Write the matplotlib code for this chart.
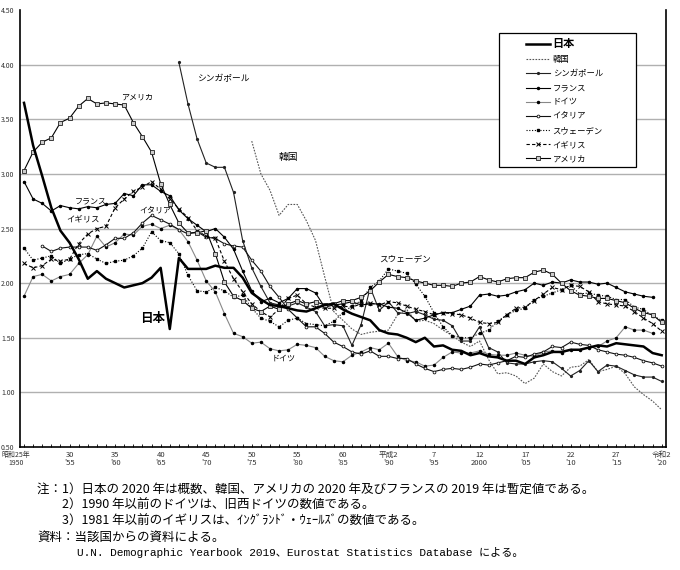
import matplotlib
matplotlib.use("Agg")
import matplotlib.pyplot as plt
import matplotlib.ticker as mticker
from matplotlib.patches import Rectangle

plt.rcParams['font.family'] = ['Noto Sans CJK JP', 'DejaVu Sans']

# total fertility rate, one value per year from the start year
japan_start = 1950
japan = [3.65, 3.26, 2.98, 2.69, 2.48, 2.37, 2.22, 2.04, 2.11, 2.04,
         2.00, 1.96, 1.98, 2.00, 2.05, 2.14, 1.58, 2.23, 2.13, 2.13,
         2.13, 2.16, 2.14, 2.14, 2.05, 1.91, 1.85, 1.80, 1.79, 1.77,
         1.75, 1.74, 1.77, 1.80, 1.81, 1.76, 1.72, 1.69, 1.66, 1.57,
         1.54, 1.53, 1.50, 1.46, 1.50, 1.42, 1.43, 1.39, 1.38, 1.34,
         1.36, 1.33, 1.32, 1.29, 1.29, 1.26, 1.32, 1.34, 1.37, 1.37,
         1.39, 1.39, 1.41, 1.43, 1.42, 1.45, 1.44, 1.43, 1.42, 1.36,
         1.34]

korea_start = 1975
korea = [3.30, 3.00, 2.85, 2.62, 2.72, 2.72, 2.57, 2.39, 2.06, 1.74,
         1.66, 1.58, 1.53, 1.55, 1.56, 1.57, 1.71, 1.76, 1.65, 1.66,
         1.63, 1.57, 1.52, 1.46, 1.42, 1.47, 1.30, 1.17, 1.18, 1.15,
         1.08, 1.13, 1.26, 1.19, 1.15, 1.23, 1.24, 1.30, 1.19, 1.21,
         1.24, 1.17, 1.05, 0.98, 0.92, 0.84]

singapore_start = 1967
singapore = [4.02, 3.64, 3.32, 3.10, 3.06, 3.06, 2.83, 2.39, 2.14, 1.97,
             1.82, 1.80, 1.79, 1.82, 1.78, 1.74, 1.61, 1.62, 1.61, 1.43,
             1.62, 1.96, 1.75, 1.83, 1.73, 1.72, 1.74, 1.71, 1.67, 1.66,
             1.61, 1.47, 1.47, 1.60, 1.41, 1.37, 1.27, 1.26, 1.26, 1.28,
             1.29, 1.28, 1.22, 1.15, 1.20, 1.29, 1.19, 1.25, 1.24, 1.20,
             1.16, 1.14, 1.14, 1.10]

france_start = 1950
france = [2.93, 2.77, 2.73, 2.66, 2.71, 2.69, 2.68, 2.70, 2.69, 2.72,
          2.73, 2.82, 2.80, 2.90, 2.90, 2.84, 2.80, 2.67, 2.59, 2.53,
          2.47, 2.50, 2.42, 2.31, 2.11, 1.93, 1.83, 1.86, 1.82, 1.86,
          1.95, 1.95, 1.91, 1.78, 1.80, 1.81, 1.83, 1.80, 1.81, 1.81,
          1.78, 1.77, 1.73, 1.66, 1.68, 1.71, 1.73, 1.73, 1.76, 1.79,
          1.89, 1.90, 1.88, 1.89, 1.92, 1.94, 2.00, 1.98, 2.01, 2.00,
          2.03, 2.01, 2.01, 1.99, 2.00, 1.96, 1.92, 1.90, 1.88, 1.87]

germany_start = 1950
germany = [1.88, 2.06, 2.08, 2.02, 2.06, 2.08, 2.18, 2.26, 2.43, 2.33,
           2.37, 2.45, 2.44, 2.52, 2.54, 2.50, 2.53, 2.49, 2.38, 2.21,
           2.02, 1.92, 1.72, 1.54, 1.51, 1.45, 1.46, 1.40, 1.38, 1.39,
           1.44, 1.43, 1.41, 1.33, 1.29, 1.28, 1.34, 1.37, 1.41, 1.39,
           1.45, 1.33, 1.29, 1.28, 1.24, 1.25, 1.32, 1.37, 1.36, 1.36,
           1.38, 1.35, 1.34, 1.34, 1.36, 1.34, 1.33, 1.37, 1.38, 1.36,
           1.39, 1.39, 1.41, 1.42, 1.47, 1.50, 1.60, 1.57, 1.57, 1.54]

italy_start = 1952
italy = [2.34, 2.29, 2.32, 2.33, 2.33, 2.33, 2.30, 2.35, 2.41, 2.41,
         2.46, 2.55, 2.62, 2.58, 2.54, 2.49, 2.45, 2.47, 2.42, 2.41,
         2.36, 2.34, 2.33, 2.21, 2.11, 1.97, 1.87, 1.76, 1.68, 1.60,
         1.60, 1.54, 1.46, 1.42, 1.37, 1.35, 1.38, 1.33, 1.33, 1.31,
         1.31, 1.26, 1.22, 1.19, 1.21, 1.22, 1.21, 1.23, 1.26, 1.25,
         1.27, 1.29, 1.33, 1.32, 1.35, 1.37, 1.42, 1.41, 1.46, 1.44,
         1.43, 1.39, 1.37, 1.35, 1.34, 1.32, 1.29, 1.27, 1.24]

sweden_start = 1950
sweden = [2.32, 2.21, 2.23, 2.25, 2.18, 2.22, 2.26, 2.27, 2.22, 2.18,
          2.20, 2.21, 2.25, 2.32, 2.47, 2.39, 2.37, 2.27, 2.07, 1.93,
          1.92, 1.96, 1.93, 1.87, 1.89, 1.77, 1.68, 1.65, 1.60, 1.66,
          1.68, 1.63, 1.62, 1.61, 1.65, 1.73, 1.79, 1.84, 1.96, 2.02,
          2.13, 2.11, 2.09, 1.99, 1.88, 1.73, 1.60, 1.52, 1.50, 1.50,
          1.54, 1.57, 1.65, 1.71, 1.75, 1.77, 1.85, 1.88, 1.91, 1.94,
          1.98, 1.90, 1.91, 1.89, 1.88, 1.85, 1.85, 1.78, 1.76, 1.70,
          1.66]

uk_start = 1950
uk = [2.18, 2.14, 2.16, 2.22, 2.20, 2.22, 2.36, 2.45, 2.50, 2.52,
      2.69, 2.77, 2.84, 2.88, 2.93, 2.86, 2.77, 2.68, 2.60, 2.48,
      2.43, 2.41, 2.20, 2.04, 1.92, 1.81, 1.74, 1.69, 1.76, 1.86,
      1.89, 1.81, 1.78, 1.77, 1.77, 1.79, 1.78, 1.81, 1.82, 1.80,
      1.83, 1.82, 1.79, 1.76, 1.74, 1.71, 1.73, 1.72, 1.71, 1.68,
      1.64, 1.63, 1.64, 1.71, 1.77, 1.78, 1.84, 1.90, 1.96, 1.94,
      1.98, 1.97, 1.92, 1.83, 1.81, 1.80, 1.79, 1.74, 1.68, 1.63,
      1.56]

usa_start = 1950
usa = [3.03, 3.20, 3.29, 3.33, 3.47, 3.51, 3.62, 3.69, 3.64, 3.65,
       3.64, 3.63, 3.47, 3.34, 3.20, 2.91, 2.72, 2.55, 2.46, 2.46,
       2.48, 2.27, 2.01, 1.88, 1.84, 1.77, 1.74, 1.79, 1.76, 1.81,
       1.84, 1.81, 1.83, 1.80, 1.81, 1.84, 1.84, 1.87, 1.93, 2.01,
       2.08, 2.06, 2.05, 2.02, 2.00, 1.98, 1.98, 1.97, 2.00, 2.01,
       2.06, 2.03, 2.01, 2.04, 2.05, 2.05, 2.10, 2.12, 2.08, 2.00,
       1.93, 1.89, 1.88, 1.86, 1.86, 1.84, 1.82, 1.77, 1.73, 1.71,
       1.64]

tick_years = [1950, 1955, 1960, 1965, 1970, 1975, 1980, 1985, 1990, 1995,
              2000, 2005, 2010, 2015, 2020]
tick_labels = ["昭和25年\n1950", "30\n'55", "35\n'60", "40\n'65", "45\n'70",
               "50\n'75", "55\n'80", "60\n'85", "平成2\n'90", "7\n'95",
               "12\n2000", "17\n'05", "22\n'10", "27\n'15", "令和2\n'20"]
grid_values = [1.0, 1.5, 2.0, 2.5, 3.0, 3.5, 4.0]

notes = [
    "注：1）日本の 2020 年は概数、韓国、アメリカの 2020 年及びフランスの 2019 年は暫定値である。",
    "　　2）1990 年以前のドイツは、旧西ドイツの数値である。",
    "　　3）1981 年以前のイギリスは、ｲﾝｸﾞﾗﾝﾄﾞ・ｳｪｰﾙｽﾞの数値である。",
    "資料：当該国からの資料による。",
]
source_line = "U.N. Demographic Yearbook 2019、Eurostat Statistics Database による。"


def years_for(start, values):
    return list(range(start, start + len(values)))


fig = plt.figure(figsize=(6.8, 5.7), dpi=100)
ax = fig.add_axes([20 / 680, 1 - 447 / 570, 646 / 680, 437 / 570])

ax.plot(years_for(japan_start, japan), japan, color='black', lw=1.8, label='日本', zorder=5)
ax.plot(years_for(korea_start, korea), korea, color='#555555', lw=0.8, ls=(0, (1.5, 1.2)),
        label='韓国')
ax.plot(years_for(singapore_start, singapore), singapore, color='#222222', lw=0.8,
        marker='o', ms=1.3, label='シンガポール')
ax.plot(years_for(france_start, france), france, color='black', lw=0.8,
        marker='o', ms=1.5, label='フランス')
ax.plot(years_for(germany_start, germany), germany, color='#888888', lw=0.8,
        marker='o', ms=1.5, mfc='black', mec='black', label='ドイツ')
ax.plot(years_for(italy_start, italy), italy, color='#111111', lw=0.8,
        marker='o', ms=2.0, mfc='white', mec='#111111', mew=0.6, label='イタリア')
ax.plot(years_for(sweden_start, sweden), sweden, color='black', lw=0.8, ls=(0, (1, 1.5)),
        marker='s', ms=1.7, label='スウェーデン')
ax.plot(years_for(uk_start, uk), uk, color='black', lw=0.8, ls=(0, (3, 2)),
        marker='x', ms=2.2, mew=0.7, label='イギリス')
ax.plot(years_for(usa_start, usa), usa, color='black', lw=0.8,
        marker='s', ms=2.6, mfc='#cccccc', mec='#222222', mew=0.6, label='アメリカ')

ax.set_xlim(1949.56, 2020.47)
ax.set_ylim(0.5, 4.5)
ax.yaxis.set_major_locator(mticker.MultipleLocator(0.5))
ax.yaxis.set_major_formatter(mticker.FormatStrFormatter('%.2f'))
for g in grid_values:
    ax.axhline(g, color='#b0b0b0', lw=1.0, zorder=0)

# first label sits left of its tick, drawn separately so it stays inside the figure
ax.set_xticks(tick_years)
ax.set_xticklabels([''] + tick_labels[1:], fontsize=5.5, color='#333333', linespacing=0.95)
fig.text(2 / 680, 1 - 451 / 570, tick_labels[0], fontsize=5, color='#333333',
         ha='left', va='top', multialignment='center', linespacing=0.95)
ax.xaxis.set_minor_locator(mticker.MultipleLocator(1))
ax.tick_params(axis='x', which='both', direction='in', length=2.5, width=0.6, pad=3)
ax.tick_params(axis='y', length=0, labelsize=5, pad=4, labelcolor='#333333')

for sp in ['left', 'bottom', 'right']:
    ax.spines[sp].set_linewidth(1.2)
ax.spines['top'].set_visible(False)

# country labels inside the plot
ax.text(1960.6, 3.70, 'アメリカ', fontsize=5.8, va='center')
ax.text(1969.0, 3.87, 'シンガポール', fontsize=6.3, va='center')
ax.text(1977.9, 3.15, '韓国', fontsize=7, va='center')
ax.text(1955.6, 2.75, 'フランス', fontsize=5.8, va='center')
ax.text(1954.6, 2.59, 'イギリス', fontsize=6.0, va='center')
ax.text(1962.7, 2.66, 'イタリア', fontsize=5.8, va='center')
ax.text(1989.0, 2.22, 'スウェーデン', fontsize=6.2, va='center')
ax.text(1962.7, 1.68, '日本', fontsize=9, va='center', fontweight='bold')
ax.text(1977.2, 1.31, 'ドイツ', fontsize=5.8, va='center')

# legend: opaque box drawn separately, entries placed inside it
ax.add_patch(Rectangle((499 / 680, 1 - 167 / 570), 137 / 680, 134 / 570,
                       transform=fig.transFigure, clip_on=False, facecolor='white',
                       edgecolor='black', lw=0.9, zorder=8))
leg = ax.legend(loc='upper left', bbox_to_anchor=(526 / 680, 1 - 37 / 570),
                bbox_transform=fig.transFigure, fontsize=6, frameon=False,
                handlelength=2.9, labelspacing=0.62, borderpad=0,
                handletextpad=0.3, borderaxespad=0)
leg.set_zorder(9)
leg.get_texts()[0].set_fontweight('bold')
leg.get_texts()[0].set_fontsize(8)

for i, line in enumerate(notes):
    fig.text(37 / 680, 1 - (489 + 16 * i) / 570, line, fontsize=9, va='center')
fig.text(77 / 680, 1 - 553 / 570, source_line, fontsize=8, va='center',
         family=['Liberation Mono', 'Noto Sans CJK JP'])

fig.savefig('out.png', dpi=100)
